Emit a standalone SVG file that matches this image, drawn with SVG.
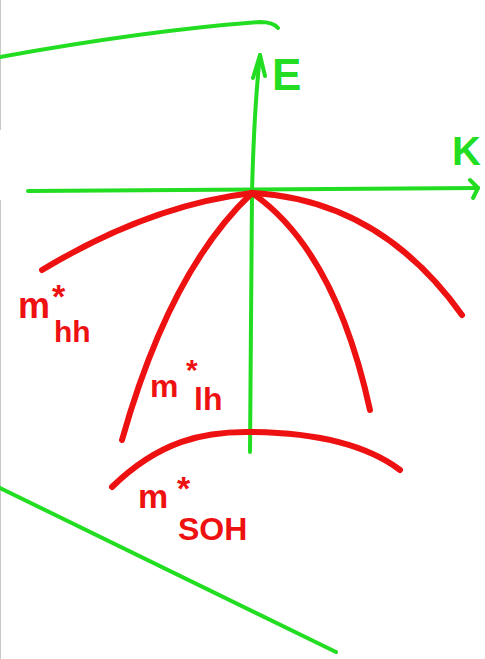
<svg xmlns="http://www.w3.org/2000/svg" width="485" height="659" viewBox="0 0 485 659">
<style>
.g{fill:none;stroke:#22dd22;stroke-width:4;stroke-linecap:round;stroke-linejoin:round}
.r{fill:none;stroke:#ee1111;stroke-width:6;stroke-linecap:round}
.gt{fill:#22dd22;font-family:"Liberation Sans",sans-serif;font-weight:bold}
.rt{fill:#ee1111;font-family:"Liberation Sans",sans-serif;font-weight:bold}
</style>
<rect width="485" height="659" fill="#ffffff"/>
<line x1="0.5" y1="0" x2="0.5" y2="130" stroke="#c8c8c8" stroke-width="1"/>
<line x1="0.5" y1="200" x2="0.5" y2="659" stroke="#c8c8c8" stroke-width="1"/>
<g id="frame">
<path class="g" d="M0,57 Q150,30 260,22 Q273,22 278,28"/>
<path class="g" d="M0,488 L336,652"/>
</g>
<g id="connectors">
<path class="g" d="M250,452 L252,193 Q254,110 260,55"/>
<path class="g" d="M253,78 L260,55 L265,76"/>
<path class="g" d="M28,191 L478,188"/>
<path class="g" d="M470,180 L478,188 L473,198"/>
</g>
<g id="curves">
<path class="r" d="M42,270 Q150,205 252,193"/>
<path class="r" d="M252,193 Q380,200 462,315"/>
<path class="r" d="M122,440 Q170,270 252,193"/>
<path class="r" d="M252,193 Q335,250 370,410"/>
<path class="r" d="M112,487 C160,440 205,432 246,432 C300,432 360,440 400,470"/>
</g>
<g id="axis-E"><text class="gt" x="272" y="90" font-size="44">E</text></g>
<g id="axis-K"><text class="gt" x="452" y="165" font-size="40">K</text></g>
<g id="label-hh">
<text class="rt" x="18" y="318" font-size="36">m</text>
<text class="rt" x="52" y="308" font-size="34">*</text>
<text class="rt" x="54" y="342" font-size="30">hh</text>
</g>
<g id="label-lh">
<text class="rt" x="150" y="397" font-size="32">m</text>
<text class="rt" x="186" y="380" font-size="30">*</text>
<text class="rt" x="194" y="410" font-size="32">lh</text>
</g>
<g id="label-soh">
<text class="rt" x="138" y="508" font-size="34">m</text>
<text class="rt" x="177" y="500" font-size="34">*</text>
<text class="rt" x="178" y="540" font-size="32">SOH</text>
</g>
</svg>
